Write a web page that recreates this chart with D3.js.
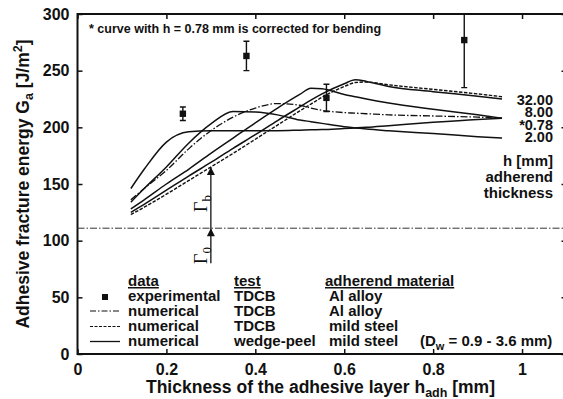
<!DOCTYPE html>
<html><head><meta charset="utf-8">
<script src="https://cdn.jsdelivr.net/npm/d3@7"></script>
<style>
body{margin:0;background:#fff;}
text{font-family:"Liberation Sans",Arial,Helvetica,sans-serif;font-weight:bold;fill:#111;}
</style></head>
<body><svg id="c" width="563" height="399"></svg>
<script>
// ---- data ----
const hadh = [0.12,0.15,0.2,0.25,0.3,0.35,0.4,0.45,0.5,0.525,0.55,0.6,0.625,0.65,0.7,0.8,0.9,0.955];
const wp32  = [125,132,144.5,157,169,181.5,193.5,206,218,224,229.5,238.5,242,240.5,236,231.5,227.5,225];
const wp8   = [128,136,150,163,177,190.5,204,217,229,234.5,234,229,227,225,221.5,216,211,208];
const wp078 = [146,163,187,196,197,197,197,197,197.5,197.8,198,199,199.5,200,201.5,204.5,207,208];
const wp2   = [134,146,165,186,203,214,213.5,211,206.5,205,203.5,200.5,199.5,198.5,197,194.5,191.8,190.5];
const tdcbAl    = [136,146,162,181,197,209,217,221,219.5,217,215,213,212.5,212,211,210,209,208];
const tdcbSteel = [123,129.5,141,153,165,177,189.5,202,214.5,220.5,226.5,236,239.5,240,237.5,233.5,229.5,227];
const expX   = [0.237,0.38,0.56,0.87];
const expY   = [212,263,226,277];
const expErr = [6,13,12,42];
const gamma0 = 111;
const arrowX = 0.3;
const xTicks = [0,0.2,0.4,0.6,0.8,1];
const yTicks = [0,50,100,150,200,250,300];
const hLabels = ["32.00","8.00","*0.78","2.00"];
const legendData = ["experimental","numerical","numerical","numerical"];
const legendTest = ["TDCB","TDCB","TDCB","wedge-peel"];
const legendMat  = ["Al alloy","Al alloy","mild steel","mild steel"];

// ---- chart ----
const svg = d3.select("#c");
const L=77.5, R=566.5, T=14, B=354;
const x = d3.scaleLinear().domain([0,1.1]).range([L,R]);
const y = d3.scaleLinear().domain([0,300]).range([B,T]);

svg.append("defs").append("clipPath").attr("id","clip")
  .append("rect").attr("x",L).attr("y",T).attr("width",R-L).attr("height",B-T);
const mk = svg.select("defs").append("marker").attr("id","arr")
  .attr("viewBox","0 0 10 10").attr("refX",10).attr("refY",5)
  .attr("markerWidth",10).attr("markerHeight",8).attr("markerUnits","userSpaceOnUse").attr("orient","auto");
mk.append("path").attr("d","M0,0L10,5L0,10Z").attr("fill","#111");

// axes (inward ticks)
const fmt = d=>d3.format("")(d);
const gx = svg.append("g").attr("transform",`translate(0,${B})`)
  .call(d3.axisBottom(x).tickValues(xTicks).tickSize(-5).tickPadding(10).tickFormat(fmt));
const gxt = svg.append("g").attr("transform",`translate(0,${T})`)
  .call(d3.axisTop(x).tickValues(xTicks).tickSize(-5).tickFormat(""));
const gy = svg.append("g").attr("transform",`translate(${L},0)`)
  .call(d3.axisLeft(y).tickValues(yTicks).tickSize(-5).tickPadding(8));
const gyr = svg.append("g").attr("transform",`translate(${R},0)`)
  .call(d3.axisRight(y).tickValues(yTicks).tickSize(-5).tickFormat(""));
[gx,gxt,gy,gyr].forEach(g=>{g.select(".domain").remove();g.selectAll("line").attr("stroke","#111").attr("stroke-width",1.5);});
gx.selectAll("text").style("font-size","16px").style("font-family","Liberation Sans").style("font-weight","bold").attr("fill","#111");
gy.selectAll("text").style("font-size","16px").style("font-family","Liberation Sans").style("font-weight","bold").attr("fill","#111");
svg.append("rect").attr("x",L).attr("y",T).attr("width",R-L).attr("height",B-T)
  .attr("fill","none").attr("stroke","#111").attr("stroke-width",2);

// Gamma0 line
svg.append("line").attr("x1",L).attr("x2",R).attr("y1",y(gamma0)).attr("y2",y(gamma0))
  .attr("stroke","#333").attr("stroke-width",1).attr("stroke-dasharray","7,2,1.5,2");

// curves
const line = d3.line().x((d,i)=>x(hadh[i])).y(d=>y(d)).curve(d3.curveMonotoneX);
const plot = svg.append("g").attr("clip-path","url(#clip)");
[wp32,wp8,wp078,wp2].forEach(s=>plot.append("path").attr("d",line(s)).attr("fill","none").attr("stroke","#111").attr("stroke-width",1.5));
plot.append("path").attr("d",line(tdcbAl)).attr("fill","none").attr("stroke","#111").attr("stroke-width",1.3).attr("stroke-dasharray","7,2,1.5,2");
plot.append("path").attr("d",line(tdcbSteel)).attr("fill","none").attr("stroke","#111").attr("stroke-width",1.4).attr("stroke-dasharray","3.5,1.5");

// experimental points
expX.forEach((xv,i)=>{
  const cx=x(xv);
  plot.append("line").attr("x1",cx).attr("x2",cx).attr("y1",y(expY[i]-expErr[i])).attr("y2",y(expY[i]+expErr[i])).attr("stroke","#111").attr("stroke-width",1.4);
  [expY[i]-expErr[i],expY[i]+expErr[i]].forEach(v=>plot.append("line").attr("x1",cx-3).attr("x2",cx+3).attr("y1",y(v)).attr("y2",y(v)).attr("stroke","#111").attr("stroke-width",1.4));
  plot.append("rect").attr("x",cx-3.2).attr("y",y(expY[i])-3.2).attr("width",6.4).attr("height",6.4).attr("fill","#111");
});

// arrows
svg.append("line").attr("x1",x(arrowX)).attr("x2",x(arrowX)).attr("y1",y(80)).attr("y2",y(gamma0)).attr("stroke","#111").attr("stroke-width",1.3).attr("marker-end","url(#arr)");
svg.append("line").attr("x1",x(arrowX)).attr("x2",x(arrowX)).attr("y1",y(gamma0)).attr("y2",y(tdcbSteel[4])).attr("stroke","#111").attr("stroke-width",1.3).attr("marker-end","url(#arr)");
function gam(sub,yy){
  const t=svg.append("text").attr("transform",`translate(${x(arrowX)-4},${yy}) rotate(-90)`)
    .style("font-family","Liberation Serif,Times New Roman,serif").style("font-weight","normal").style("font-size","18px");
  t.append("tspan").text("Γ");
  t.append("tspan").attr("dy",4).style("font-size","13px").text(sub);
}
gam("b",212); gam("0",264);

// annotation
svg.append("text").attr("x",89).attr("y",33).style("font-size","12.5px").text("* curve with h = 0.78 mm is corrected for bending");

// h labels
const hl = svg.append("g").style("font-size","14.5px").attr("text-anchor","end");
hLabels.forEach((t,i)=>hl.append("text").attr("x",553).attr("y",105+i*12.3).text(t));
["h [mm]","adherend","thickness"].forEach((t,i)=>svg.append("text").attr("x",553).attr("y",166+i*16).attr("text-anchor","end").style("font-size","15px").text(t));

// legend
const lg = svg.append("g").style("font-size","15px");
const rowY = [301,316,331,346];
lg.append("text").attr("x",128).attr("y",286).style("text-decoration","underline").text("data");
lg.append("text").attr("x",234).attr("y",286).style("text-decoration","underline").text("test");
lg.append("text").attr("x",325).attr("y",286).style("text-decoration","underline").text("adherend material");
rowY.forEach((ry,i)=>{
  lg.append("text").attr("x",128).attr("y",ry).text(legendData[i]);
  lg.append("text").attr("x",234).attr("y",ry).text(legendTest[i]);
  lg.append("text").attr("x",329).attr("y",ry).text(legendMat[i]);
});
lg.append("rect").attr("x",102).attr("y",294).attr("width",6).attr("height",6).attr("fill","#111");
lg.append("line").attr("x1",90).attr("x2",120).attr("y1",311).attr("y2",311).attr("stroke","#111").attr("stroke-width",1.2).attr("stroke-dasharray","6,2,1.5,2");
lg.append("line").attr("x1",90).attr("x2",120).attr("y1",326.5).attr("y2",326.5).attr("stroke","#111").attr("stroke-width",1.2).attr("stroke-dasharray","3,1.5");
lg.append("line").attr("x1",90).attr("x2",120).attr("y1",341.5).attr("y2",341.5).attr("stroke","#111").attr("stroke-width",1.3);
const dw = lg.append("text").attr("x",420).attr("y",346);
dw.append("tspan").text("(D");
dw.append("tspan").attr("dy",4).style("font-size","11px").text("w");
dw.append("tspan").attr("dy",-4).text(" = 0.9 - 3.6 mm)");

// axis titles
const xt = svg.append("text").attr("x",320.5).attr("y",393).attr("text-anchor","middle").style("font-size","17.5px");
xt.append("tspan").text("Thickness of the adhesive layer h");
xt.append("tspan").attr("dy",4).style("font-size","12.5px").text("adh");
xt.append("tspan").attr("dy",-4).text(" [mm]");
const yt = svg.append("text").attr("transform","translate(29,184) rotate(-90)").attr("text-anchor","middle").style("font-size","17.5px");
yt.append("tspan").text("Adhesive fracture energy G");
yt.append("tspan").attr("dy",4).style("font-size","12.5px").text("a");
yt.append("tspan").attr("dy",-4).text(" [J/m");
yt.append("tspan").attr("dy",-7).style("font-size","12.5px").text("2");
yt.append("tspan").attr("dy",7).text("]");
</script></body></html>
